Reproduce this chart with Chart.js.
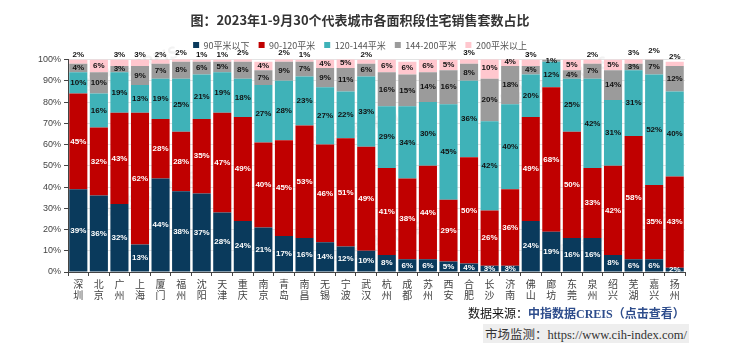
<!DOCTYPE html>
<html>
<head>
<meta charset="utf-8">
<script src="https://cdn.jsdelivr.net/npm/chart.js@4"></script>
<style>
  body { margin: 0; background: #fff; }
  #wrap { position: relative; width: 730px; height: 363px; }
  #src1 { position: absolute; left: 468px; top: 304px; font: 12px "Noto Sans CJK SC", sans-serif; color: #111; }
  #src1 span { color: #2e4d8c; font-weight: bold; font-family: "Liberation Serif", "Noto Sans CJK SC", serif; }
  #src2 { position: absolute; left: 483px; top: 324px; font: 12.5px "Liberation Serif", "Noto Sans CJK SC", serif; color: #333; background: #eeeeee; padding: 0 2px; }
</style>
</head>
<body>
<div id="wrap">
  <canvas id="chart" width="730" height="363"></canvas>
  <div id="src1">数据来源：<span>中指数据CREIS（点击查看）</span></div>
  <div id="src2">市场监测：https://www.cih-index.com/</div>
</div>
<script>
// 城市
const cities = ['深圳','北京','广州','上海','厦门','福州','沈阳','天津','重庆','南京',
  '青岛','南昌','无锡','宁波','武汉','杭州','成都','苏州','西安','合肥',
  '长沙','济南','佛山','廊坊','东莞','泉州','绍兴','芜湖','嘉兴','扬州'];

// 各面积段占比（%）
const below90 = [39,36,32,13,44,38,37,28,24,21,17,16,14,12,10,8,6,6,5,4,3,3,24,19,16,16,8,6,6,2];
const s90to120 = [45,32,43,62,28,28,35,47,49,40,45,53,46,51,49,41,38,44,29,50,26,36,49,68,50,33,42,58,35,43];
const s120to144 = [10,16,19,13,19,25,21,19,18,27,28,23,27,22,33,29,34,30,45,36,42,40,20,12,25,42,31,31,52,40];
const s144to200 = [4,10,3,9,7,8,6,5,8,7,9,7,9,11,6,16,15,14,16,8,20,18,4,1,4,7,14,3,7,12];
const above200 = [2,6,3,3,2,2,1,1,2,4,2,1,4,5,2,6,6,6,5,3,10,4,3,0,5,2,5,3,2,2];

const seriesNames = ['90平米以下','90-120平米','120-144平米','144-200平米','200平米以上'];
const seriesColors = ['#0a3a5c','#c00000','#3fb2b8','#9b9b9b','#ffc7ce'];
const labelColors = ['#fff','#fff','#111','#111','#111'];
const yTicks = [0,10,20,30,40,50,60,70,80,90,100];

// 数据标签
const labelPlugin = {
  id: 'segLabels',
  afterDatasetsDraw(chart) {
    const ctx = chart.ctx;
    ctx.save();
    ctx.font = 'bold 8px "Liberation Sans", Arial, sans-serif';
    ctx.textAlign = 'center';
    ctx.textBaseline = 'middle';
    chart.data.datasets.forEach((ds, i) => {
      const meta = chart.getDatasetMeta(i);
      meta.data.forEach((bar, j) => {
        const v = ds.data[j];
        if (!v) return;
        let y = (bar.y + bar.base) / 2;
        if (i === 4 && v <= 3) y = bar.y - 5;
        ctx.fillStyle = labelColors[i];
        ctx.fillText(v + '%', bar.x, y);
      });
    });
    ctx.restore();
  }
};

// 水印
const watermarkPlugin = {
  id: 'watermark',
  beforeDatasetsDraw(chart) {
    const ctx = chart.ctx;
    const marks = [[70, 90], [300, 150], [500, 100], [90, 215], [330, 260], [560, 250]];
    ctx.save();
    ctx.font = 'bold 16px "Noto Sans CJK SC", sans-serif';
    ctx.fillStyle = 'rgba(150,150,150,0.12)';
    marks.forEach(m => {
      ctx.save();
      ctx.translate(m[0], m[1]);
      ctx.rotate(-0.35);
      ctx.fillText('中指数据 CREIS', 0, 0);
      ctx.restore();
    });
    ctx.restore();
  }
};

const ctx = document.getElementById('chart').getContext('2d');
const chart = new Chart(ctx, {
  type: 'bar',
  data: {
    labels: cities.map(c => c.split('')),
    datasets: [below90, s90to120, s120to144, s144to200, above200].map((d, i) => ({
      label: seriesNames[i],
      data: d,
      backgroundColor: seriesColors[i],
      borderWidth: 0,
      barPercentage: 0.88,
      categoryPercentage: 1.0
    }))
  },
  options: {
    responsive: false,
    animation: false,
    layout: { padding: { left: 35, right: 45, top: 2, bottom: 60 } },
    plugins: {
      title: {
        display: true,
        text: '图：2023年1-9月30个代表城市各面积段住宅销售套数占比',
        color: '#333',
        font: { size: 13, weight: 'bold', family: '"Noto Sans CJK SC", sans-serif' },
        padding: { top: 10, bottom: 4 }
      },
      legend: {
        labels: {
          boxWidth: 6, boxHeight: 6,
          color: '#555',
          font: { size: 9, family: '"Noto Sans CJK SC", sans-serif' },
          padding: 9
        }
      },
      tooltip: { enabled: false }
    },
    scales: {
      x: {
        stacked: true,
        grid: { display: true, drawOnChartArea: false, tickColor: '#444', tickLength: 4 },
        border: { color: '#444' },
        ticks: {
          maxRotation: 0, autoSkip: false, color: '#444',
          font: { size: 10, family: '"Noto Sans CJK SC", sans-serif', lineHeight: 1.15 },
          padding: 2
        }
      },
      y: {
        stacked: true,
        min: 0, max: 100,
        afterBuildTicks: axis => { axis.ticks = yTicks.map(v => ({ value: v })); },
        grid: { color: '#e3e3e3', tickColor: '#444', tickLength: 4 },
        border: { color: '#444' },
        ticks: {
          color: '#444',
          font: { size: 9, family: '"Liberation Sans", Arial, sans-serif' },
          callback: v => v + '%'
        }
      }
    }
  },
  plugins: [watermarkPlugin, labelPlugin]
});
</script>
</body>
</html>
